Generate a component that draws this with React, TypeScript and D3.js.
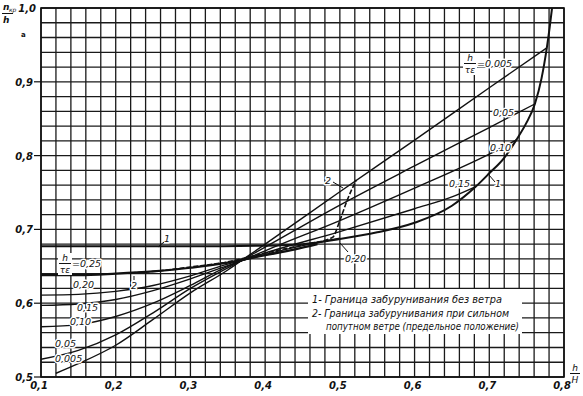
import React from "react";
import * as d3 from "d3";

const X_TICKS = [0.1, 0.2, 0.3, 0.4, 0.5, 0.6, 0.7, 0.8];
const X_TICK_LABELS = ["0,1", "0,2", "0,3", "0,4", "0,5", "0,6", "0,7", "0,8"];
const Y_TICKS = [0.5, 0.6, 0.7, 0.8, 0.9, 1.0];
const Y_TICK_LABELS = ["0,5", "0,6", "0,7", "0,8", "0,9", "1,0"];

const CURVE_0005 = [[0.12, 0.505], [0.15, 0.518], [0.2, 0.543], [0.25, 0.578], [0.3, 0.614], [0.35, 0.645], [0.37, 0.659], [0.4, 0.68], [0.5, 0.751], [0.6, 0.821], [0.7, 0.892], [0.777, 0.946]];
const CURVE_005 = [[0.1, 0.524], [0.15, 0.536], [0.2, 0.557], [0.25, 0.587], [0.3, 0.62], [0.35, 0.648], [0.37, 0.659], [0.4, 0.676], [0.5, 0.733], [0.6, 0.786], [0.7, 0.838], [0.761, 0.87]];
const CURVE_010 = [[0.1, 0.568], [0.15, 0.571], [0.2, 0.582], [0.25, 0.6], [0.3, 0.624], [0.35, 0.65], [0.37, 0.658], [0.4, 0.671], [0.5, 0.712], [0.6, 0.756], [0.7, 0.802], [0.736, 0.821]];
const CURVE_015 = [[0.1, 0.597], [0.15, 0.599], [0.2, 0.605], [0.25, 0.617], [0.3, 0.633], [0.35, 0.651], [0.37, 0.658], [0.4, 0.668], [0.5, 0.697], [0.6, 0.728], [0.65, 0.744], [0.682, 0.758]];
const CURVE_020 = [[0.1, 0.611], [0.15, 0.612], [0.2, 0.616], [0.25, 0.624], [0.3, 0.637], [0.35, 0.653], [0.37, 0.658], [0.4, 0.666], [0.45, 0.678], [0.5, 0.688]];
const CURVE_025 = [[0.1, 0.638], [0.15, 0.638], [0.2, 0.64], [0.25, 0.643], [0.3, 0.648], [0.35, 0.655], [0.37, 0.659], [0.4, 0.665], [0.44, 0.673], [0.47, 0.68]];
const BOUNDARY_1 = [[0.1, 0.677], [0.2, 0.677], [0.3, 0.677], [0.4, 0.678], [0.45, 0.68], [0.5, 0.687], [0.55, 0.696], [0.6, 0.709], [0.65, 0.732], [0.682, 0.758], [0.7, 0.776], [0.72, 0.797], [0.736, 0.821], [0.75, 0.845], [0.761, 0.87], [0.77, 0.905], [0.777, 0.946], [0.781, 0.975], [0.784, 1.0]];
const BOUNDARY_2 = [[0.22, 0.641], [0.26, 0.644], [0.3, 0.649], [0.35, 0.656], [0.4, 0.668], [0.45, 0.679], [0.49, 0.689], [0.5, 0.712], [0.51, 0.74], [0.522, 0.767]];

const LEGEND_LINES = [
  "1- Граница забурунивания без ветра",
  "2- Граница забурунивания при сильном",
  "попутном ветре (предельное положение)",
];

const W = 583;
const H = 396;

export default function App() {
  const x = d3.scaleLinear().domain([0.1, 0.8]).range([41, 564]);
  const y = d3.scaleLinear().domain([0.5, 1.0]).range([377, 8]);
  const line = d3
    .line<number[]>()
    .x((d) => x(d[0]))
    .y((d) => y(d[1]))
    .curve(d3.curveMonotoneX);

  const gridX = d3.range(0, 36).map((i) => 0.1 + i * 0.02).filter((v) => v <= 0.8001);
  const gridY = d3.range(0, 26).map((i) => 0.5 + i * 0.02).filter((v) => v <= 1.0001);

  const font = "'DejaVu Sans', sans-serif";
  const halo = { paintOrder: "stroke" as const, stroke: "#fff", strokeWidth: 3, strokeLinejoin: "round" as const };
  const lbl = (tx: string, px: number, py: number, extra: any = {}) => (
    <text x={px} y={py} fontSize={9.5} fontStyle="italic" fontFamily={font} fill="#111" {...halo} {...extra}>
      {tx}
    </text>
  );
  const frac = (cx: number, top: number, num: string, den: string) => (
    <g>
      <rect x={cx - 7} y={top - 8} width={14} height={22} fill="#fff" />
      <text x={cx} y={top} fontSize={9} fontStyle="italic" fontFamily={font} textAnchor="middle" fill="#111">{num}</text>
      <line x1={cx - 6} x2={cx + 6} y1={top + 2.5} y2={top + 2.5} stroke="#111" strokeWidth={1} />
      <text x={cx} y={top + 12} fontSize={9} fontStyle="italic" fontFamily={font} textAnchor="middle" fill="#111">{den}</text>
    </g>
  );

  const family = [CURVE_0005, CURVE_005, CURVE_010, CURVE_015, CURVE_020];

  return (
    <svg width={W} height={H} style={{ position: "absolute", left: 0, top: 0, background: "#fff" }}>
      <defs>
        <clipPath id="plotClip">
          <rect x={x(0.1)} y={y(1.0)} width={x(0.8) - x(0.1)} height={y(0.5) - y(1.0)} />
        </clipPath>
      </defs>
      <rect width={W} height={H} fill="#fff" />
      {/* grid */}
      <g stroke="#1a1a1a" strokeWidth={1.3}>
        {gridX.map((v, i) => (
          <line key={"gx" + i} x1={x(v)} x2={x(v)} y1={y(0.5)} y2={y(1.0)} />
        ))}
        {gridY.map((v, i) => (
          <line key={"gy" + i} x1={x(0.1)} x2={x(0.8)} y1={y(v)} y2={y(v)} />
        ))}
      </g>
      {/* frame */}
      <rect x={x(0.1)} y={y(1.0)} width={x(0.8) - x(0.1)} height={y(0.5) - y(1.0)} fill="none" stroke="#111" strokeWidth={1.6} />
      {/* y ticks */}
      {Y_TICKS.map((v, i) => (
        <g key={"yt" + i}>
          {i < Y_TICKS.length - 1 && <line x1={34} x2={x(0.1)} y1={y(v)} y2={y(v)} stroke="#111" strokeWidth={1.2} />}
          <text x={i === Y_TICKS.length - 1 ? 36 : 33} y={y(v) + 4} fontSize={10} fontStyle="italic" fontWeight="bold" fontFamily={font} textAnchor="end" fill="#111">
            {Y_TICK_LABELS[i]}
          </text>
        </g>
      ))}
      {/* x ticks */}
      {X_TICKS.map((v, i) => (
        <text key={"xt" + i} x={x(v) - 2} y={389} fontSize={10} fontStyle="italic" fontWeight="bold" fontFamily={font} textAnchor="middle" fill="#111">
          {X_TICK_LABELS[i]}
        </text>
      ))}
      {/* axis titles */}
      <text x={3} y={10} fontSize={9} fontStyle="italic" fontWeight="bold" fontFamily={font} fill="#111">n</text>
      <text x={9} y={12} fontSize={6} fontStyle="italic" fontFamily={font} fill="#111">кр</text>
      <line x1={2} x2={13} y1={13.5} y2={13.5} stroke="#111" strokeWidth={1} />
      <text x={3} y={23} fontSize={9} fontStyle="italic" fontWeight="bold" fontFamily={font} fill="#111">h</text>
      <text x={21} y={37} fontSize={7} fontWeight="bold" fontFamily={font} fill="#111">а</text>
      <text x={575} y={371} fontSize={9} fontStyle="italic" fontFamily={font} textAnchor="middle" fill="#111">h</text>
      <line x1={570} x2={580} y1={373.5} y2={373.5} stroke="#111" strokeWidth={1} />
      <text x={575} y={383} fontSize={9} fontStyle="italic" fontFamily={font} textAnchor="middle" fill="#111">H</text>

      {/* legend box */}
      <rect x={308} y={289} width={214} height={45} fill="#fff" />
      {LEGEND_LINES.map((t, i) => (
        <text key={"lg" + i} x={i === 2 ? 326 : 312} y={303 + i * 13.5} fontSize={10} fontStyle="italic" fontFamily={font} fill="#111"
          textLength={i === 0 ? 190 : i === 1 ? 197 : 193} lengthAdjust="spacingAndGlyphs">
          {t}
        </text>
      ))}

      {/* curves */}
      <g fill="none" stroke="#111" clipPath="url(#plotClip)">
        {family.map((c, i) => (
          <path key={"c" + i} d={line(c as any) || ""} strokeWidth={1.4} />
        ))}
        <path d={line(CURVE_025 as any) || ""} strokeWidth={2.2} />
        <path d={line(BOUNDARY_1 as any) || ""} strokeWidth={2} />
        <path d={line(BOUNDARY_2 as any) || ""} strokeWidth={1.6} strokeDasharray="5,2" />
      </g>

      {/* curve labels */}
      {frac(470, 61, "h", "τε")}
      {lbl("=0,005", 477, 67)}
      {lbl("0,05", 493, 116)}
      {lbl("0,10", 490, 151)}
      {lbl("0,15", 449, 187)}
      {lbl("0,20", 345, 262)}
      <line x1={340} y1={243} x2={348} y2={252} stroke="#111" strokeWidth={1} />
      {lbl("1", 495, 187)}
      <line x1={489} y1={175} x2={495} y2={182} stroke="#111" strokeWidth={1} />
      {lbl("2", 325, 184)}
      <line x1={333} y1={182} x2={343} y2={188} stroke="#111" strokeWidth={1} />
      {lbl("1", 164, 242)}
      <line x1={158} y1={247} x2={164} y2={242} stroke="#111" strokeWidth={1} />
      {frac(65, 261, "h", "τε")}
      {lbl("=0,25", 72, 267)}
      {lbl("0,20", 73, 288)}
      {lbl("2", 131, 289)}
      <line x1={134} y1={276} x2={134} y2={280} stroke="#111" strokeWidth={1} />
      {lbl("0,15", 77, 311)}
      {lbl("0,10", 70, 325)}
      {lbl("0,05", 55, 347)}
      {lbl("0,005", 55, 362)}
    </svg>
  );
}
